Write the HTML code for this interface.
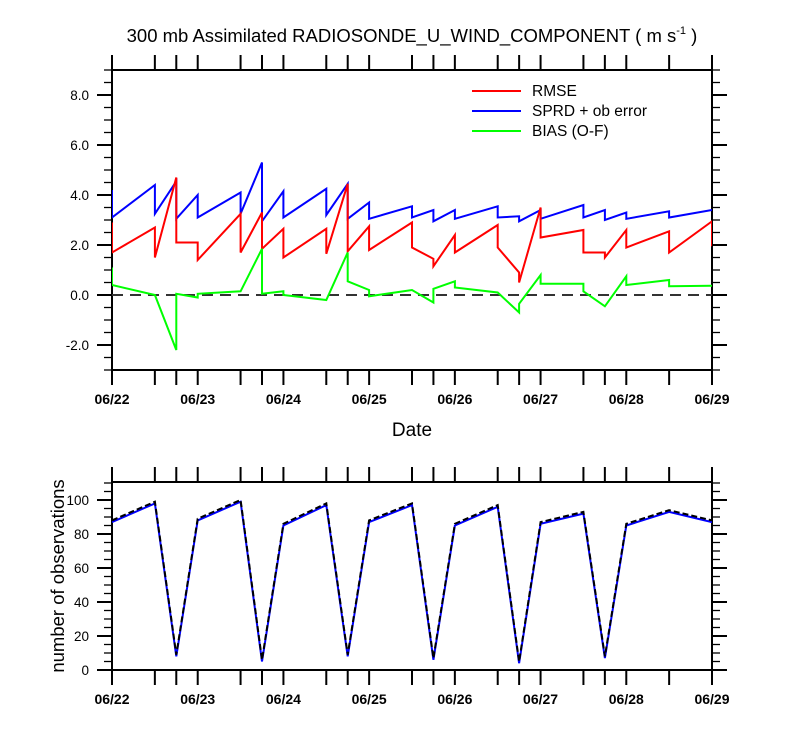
<!DOCTYPE html>
<html><head><meta charset="utf-8"><style>
html,body{margin:0;padding:0;background:#fff;}
svg{display:block;font-family:"Liberation Sans",Arial,sans-serif;}
</style></head><body>
<svg id="chart" width="800" height="750" viewBox="0 0 800 750" xmlns="http://www.w3.org/2000/svg">
<defs>
<clipPath id="clipTop"><rect x="112" y="70" width="600" height="300"/></clipPath>
<clipPath id="clipBot"><rect x="112" y="482" width="600" height="188"/></clipPath>
</defs>
<text x="412" y="42" font-size="18.5" text-anchor="middle">300 mb Assimilated RADIOSONDE_U_WIND_COMPONENT ( m s<tspan font-size="11" dy="-8">-1</tspan><tspan dy="8"> )</tspan></text>
<g id="topPanel"></g>
<g id="botPanel"></g>
<text x="412" y="436" font-size="19" text-anchor="middle">Date</text>
<text x="0" y="0" font-size="18.5" text-anchor="middle" transform="translate(64,576) rotate(-90)">number of observations</text>
<g>
<line x1="472" y1="91" x2="521" y2="91" stroke="#ff0000" stroke-width="2"/>
<text x="532" y="96" font-size="15.5">RMSE</text>
<line x1="472" y1="111" x2="521" y2="111" stroke="#0000ff" stroke-width="2"/>
<text x="532" y="116" font-size="15.5">SPRD + ob error</text>
<line x1="472" y1="131" x2="521" y2="131" stroke="#00ff00" stroke-width="2"/>
<text x="532" y="136" font-size="15.5">BIAS (O-F)</text>
</g>
</svg>
<script>
const dateLabels = ["06/22","06/23","06/24","06/25","06/26","06/27","06/28","06/29"];
const tickTimes = [0,0.5,0.75,1,1.5,1.75,2,2.5,2.75,3,3.5,3.75,4,4.5,4.75,5,5.5,5.75,6,6.5,7];
const topYTicks = [-2,0,2,4,6,8];
const botYTicks = [0,20,40,60,80,100];

const blueT = [0,0,0.5,0.5,0.75,0.75,1,1,1.5,1.5,1.75,1.75,2,2,2.5,2.5,2.75,2.75,3,3,3.5,3.5,3.75,3.75,4,4,4.5,4.5,4.75,4.75,5,5,5.5,5.5,5.75,5.75,6,6,6.5,6.5,7];
const blueV = [4.2,3.1,4.4,3.25,4.55,3.05,4.0,3.1,4.1,3.25,5.3,2.95,4.15,3.1,4.25,3.2,4.45,3.05,3.7,3.05,3.55,3.1,3.4,2.95,3.4,3.05,3.55,3.1,3.15,2.95,3.4,3.05,3.6,3.1,3.4,3.0,3.3,3.05,3.35,3.1,3.4];
const redT = [0,0,0.5,0.5,0.75,0.75,1,1,1.5,1.5,1.75,1.75,2,2,2.5,2.5,2.75,2.75,3,3,3.5,3.5,3.75,3.75,4,4,4.5,4.5,4.75,4.75,5,5,5.5,5.5,5.75,5.75,6,6,6.5,6.5,7,7];
const redV = [2.9,1.7,2.7,1.5,4.7,2.1,2.1,1.4,3.25,1.7,3.3,1.85,2.65,1.5,2.65,1.65,4.45,1.75,2.75,1.8,2.9,1.9,1.45,1.15,2.4,1.7,2.8,1.9,0.9,0.5,3.5,2.3,2.6,1.7,1.7,1.5,2.6,1.9,2.55,1.7,2.95,1.95];
const greenT = [0,0,0.5,0.75,0.75,1,1,1.5,1.75,1.75,2,2,2.5,2.75,2.75,3,3,3.5,3.75,3.75,4,4,4.5,4.75,4.75,5,5,5.5,5.5,5.75,6,6,6.5,6.5,7];
const greenV = [1.1,0.4,0.0,-2.2,0.05,-0.1,0.05,0.15,1.85,0.05,0.15,0.0,-0.2,1.7,0.55,0.2,-0.05,0.2,-0.3,0.25,0.55,0.3,0.1,-0.7,-0.35,0.8,0.45,0.45,0.15,-0.45,0.75,0.4,0.6,0.35,0.37];

const obsT = [0,0.5,0.75,1,1.5,1.75,2,2.5,2.75,3,3.5,3.75,4,4.5,4.75,5,5.5,5.75,6,6.5,7];
const obsAssim = [87,98,8,88,99,5,85,97,8,87,97,6,85,96,4,86,92,7,85,93,87];
const obsTotal = [88,99,9,89,100,6,86,98,9,88,98,7,86,97,5,87,93,8,86,94,88];

const NS = "http://www.w3.org/2000/svg";
const X = t => 112 + t * 600 / 7;
const YT = v => 295 - 25 * v;
const YB = v => 670 - 1.7 * v;
function mk(tag, attrs, parent) { const e = document.createElementNS(NS, tag); for (const k in attrs) e.setAttribute(k, attrs[k]); parent.appendChild(e); return e; }

function frame(g, y0, y1) {
  const r = mk('rect', {x:112, y:y0, width:600, height:y1-y0, fill:'none', stroke:'#000', 'stroke-width':2}, g);
  
  
  tickTimes.forEach(t => {
    const a = mk('line', {x1:X(t), y1:y0, x2:X(t), y2:y0-15, stroke:'#000', 'stroke-width':2}, g);
    
    
    const b = mk('line', {x1:X(t), y1:y1, x2:X(t), y2:y1+15, stroke:'#000', 'stroke-width':2}, g);
    
    
  });
  dateLabels.forEach((d, i) => {
    const tx = mk('text', {x:X(i), y:y1+34, 'font-size':14, 'font-weight':'bold', 'text-anchor':'middle'}, g);
    tx.textContent = d;
    
    
  });
}
function yTicks(g, Y, lo, hi, minorStep, majors, fmt) {
  for (let v = lo; v <= hi + 1e-9; v += minorStep) {
    const isMaj = majors.some(m => Math.abs(m - v) < 1e-9);
    const len = isMaj ? 15 : 8;
    const l = mk('line', {x1:112-len, y1:Y(v), x2:112, y2:Y(v), stroke:'#000', 'stroke-width':isMaj?2:1.3}, g);
    
    
    const r = mk('line', {x1:712, y1:Y(v), x2:712+len, y2:Y(v), stroke:'#000', 'stroke-width':isMaj?2:1.3}, g);
    
    
  }
  majors.forEach(v => {
    const tx = mk('text', {x:89, y:Y(v)+5, 'font-size':13.5, 'text-anchor':'end'}, g);
    tx.textContent = fmt(v);
    
    
  });
}
function series(g, T, V, Y, color, clip, name, dash) {
  const pts = T.map((t, i) => X(t).toFixed(1) + ',' + Y(V[i]).toFixed(1)).join(' ');
  const p = mk('polyline', {points:pts, fill:'none', stroke:color, 'stroke-width':2, 'clip-path':'url(#' + clip + ')'}, g);
  if (dash) p.setAttribute('stroke-dasharray', dash);
  
  
}

const topG = document.getElementById('topPanel');
frame(topG, 70, 370);
yTicks(topG, YT, -3, 9, 0.5, topYTicks, v => v.toFixed(1));
const zl = mk('line', {x1:112, y1:YT(0), x2:712, y2:YT(0), stroke:'#333', 'stroke-width':2, 'stroke-dasharray':'11,7'}, topG);


series(topG, blueT, blueV, YT, '#0000ff', 'clipTop', 'series-sprd');
series(topG, redT, redV, YT, '#ff0000', 'clipTop', 'series-rmse');
series(topG, greenT, greenV, YT, '#00ff00', 'clipTop', 'series-bias');

const botG = document.getElementById('botPanel');
frame(botG, 482, 670);
yTicks(botG, YB, 0, 110, 5, botYTicks, v => String(v));
series(botG, obsT, obsAssim, YB, '#0000ff', 'clipBot', 'series-obs-assimilated');
series(botG, obsT, obsTotal, YB, '#000000', 'clipBot', 'series-obs-total', '6,3');
</script>
</body></html>
